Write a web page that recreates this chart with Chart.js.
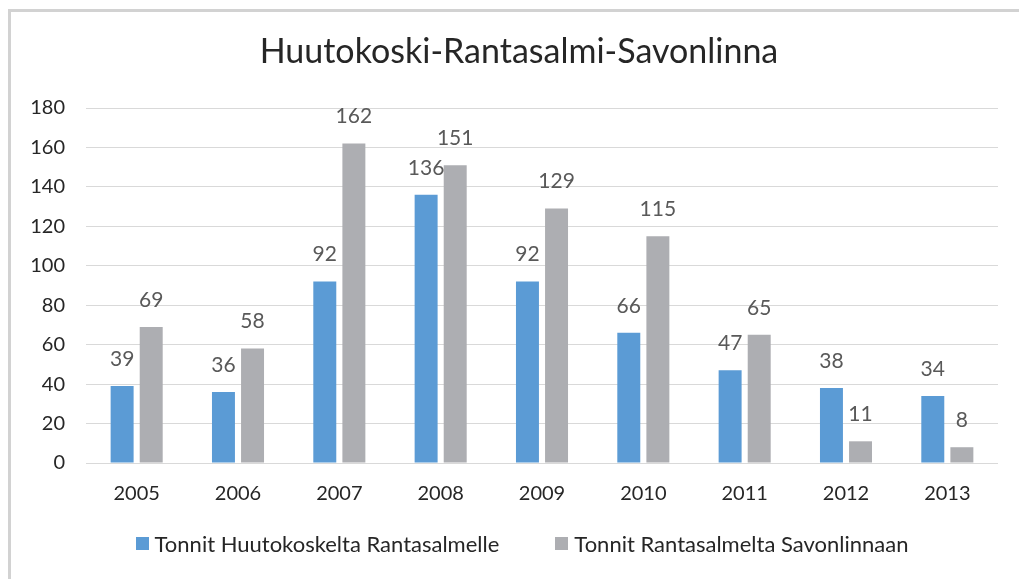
<!DOCTYPE html>
<html>
<head>
<meta charset="utf-8">
<script src="https://cdn.jsdelivr.net/npm/chart.js@4"></script>
<style>
  html, body { margin: 0; padding: 0; background: #fff; }
  .frame {
    position: absolute;
    left: 8px;
    top: 9px;
    width: 1011px;
    height: 570px;
    border-top: 3px solid #d2d2d2;
    border-left: 3px solid #d2d2d2;
    box-sizing: border-box;
  }
  .frame canvas { display: block; }
  .title {
    position: absolute;
    left: 0;
    width: 1016px;
    top: 18px;
    text-align: center;
    font-family: Lato, "Open Sans", sans-serif;
    font-size: 34px;
    line-height: 40px;
    color: #262626;
  }
  .legend {
    position: absolute;
    left: 0;
    width: 1008px;
    top: 517px;
    height: 28px;
    display: flex;
    justify-content: center;
    align-items: center;
    font-family: Lato, "Open Sans", sans-serif;
    font-size: 22px;
    color: #262626;
    padding-left: 14px;
    box-sizing: border-box;
  }
  .legend .item { display: flex; align-items: center; margin: 0 28px; white-space: nowrap; }
  .legend .swatch { width: 13px; height: 13px; margin-right: 6px; }
</style>
</head>
<body>
<div class="frame">
  <canvas id="chart" width="1008" height="567"></canvas>
  <div class="title">Huutokoski-Rantasalmi-Savonlinna</div>
  <div class="legend" id="legend"></div>
</div>
<script>
const years = ['2005', '2006', '2007', '2008', '2009', '2010', '2011', '2012', '2013'];
const toRantasalmi = [39, 36, 92, 136, 92, 66, 47, 38, 34];
const toSavonlinna = [69, 58, 162, 151, 129, 115, 65, 11, 8];
const seriesNames = ['Tonnit Huutokoskelta Rantasalmelle', 'Tonnit Rantasalmelta Savonlinnaan'];
const seriesColors = ['#5b9bd5', '#adaeb2'];

const FONT = 'Lato, "Open Sans", sans-serif';

// value labels above each bar
const barLabels = {
  id: 'barLabels',
  afterDatasetsDraw(chart) {
    const ctx = chart.ctx;
    ctx.save();
    ctx.font = '21px ' + FONT;
    ctx.fillStyle = '#595959';
    ctx.textAlign = 'center';
    ctx.textBaseline = 'middle';
    chart.data.datasets.forEach((ds, i) => {
      const meta = chart.getDatasetMeta(i);
      meta.data.forEach((bar, j) => {
        ctx.fillText(String(ds.data[j]), bar.x, bar.y - 27);
      });
    });
    ctx.restore();
  }
};

// legend drawn as html under the canvas
const htmlLegend = {
  id: 'htmlLegend',
  afterUpdate(chart) {
    const box = document.getElementById('legend');
    box.innerHTML = '';
    chart.data.datasets.forEach(ds => {
      const item = document.createElement('span');
      item.className = 'item';
      const sw = document.createElement('span');
      sw.className = 'swatch';
      sw.style.background = ds.backgroundColor;
      item.appendChild(sw);
      item.appendChild(document.createTextNode(ds.label));
      box.appendChild(item);
    });
  }
};

const ctx = document.getElementById('chart').getContext('2d');
const chart = new Chart(ctx, {
  type: 'bar',
  data: {
    labels: years,
    datasets: [
      {
        label: seriesNames[0],
        data: toRantasalmi,
        backgroundColor: seriesColors[0],
        categoryPercentage: 0.574,
        barPercentage: 0.79
      },
      {
        label: seriesNames[1],
        data: toSavonlinna,
        backgroundColor: seriesColors[1],
        categoryPercentage: 0.574,
        barPercentage: 0.79
      }
    ]
  },
  plugins: [barLabels, htmlLegend],
  options: {
    responsive: false,
    animation: false,
    layout: { padding: { left: 0, right: 21, top: 96, bottom: 62 } },
    plugins: {
      title: { display: false },
      legend: { display: false },
      tooltip: { enabled: false }
    },
    scales: {
      x: {
        grid: { display: false },
        border: { display: false },
        ticks: {
          color: '#262626',
          font: { family: FONT, size: 20 },
          padding: 11
        }
      },
      y: {
        min: 0,
        max: 180,
        afterFit(scale) { scale.width = 75; },
        grid: { color: '#d9d9d9', lineWidth: 1, drawTicks: false },
        border: { display: false },
        ticks: {
          stepSize: 20,
          color: '#262626',
          font: { family: FONT, size: 20 },
          padding: 21
        }
      }
    }
  }
});
</script>
</body>
</html>
